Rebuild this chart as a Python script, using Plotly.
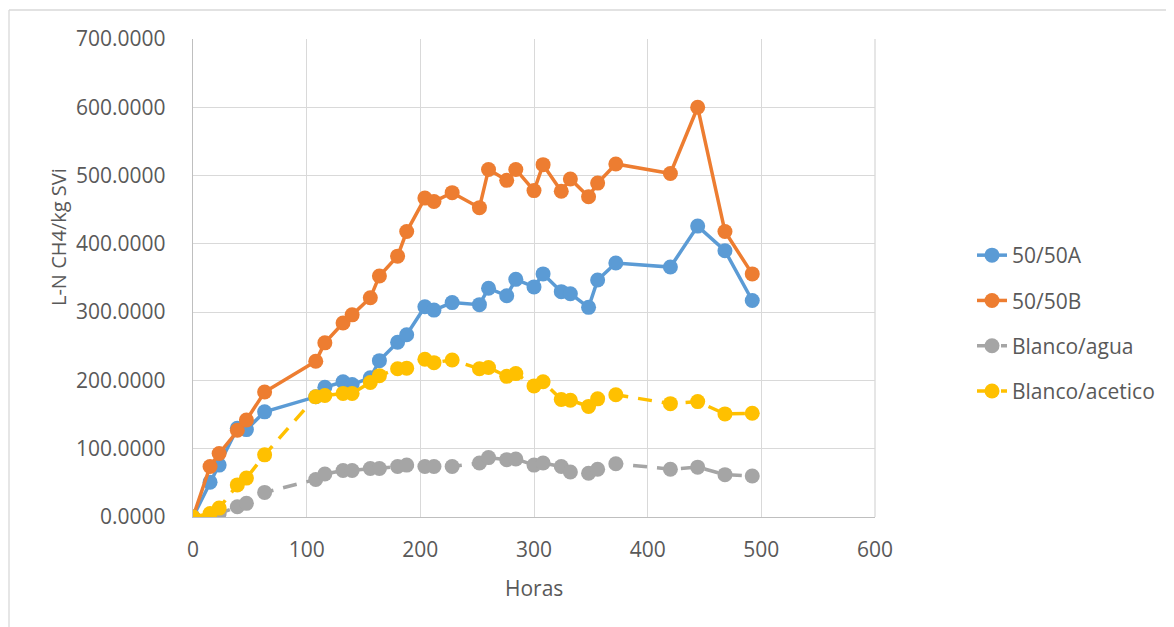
import plotly.graph_objects as go

horas = [0, 15, 23, 39, 47, 63, 108, 116, 132, 140, 156, 164, 180, 188, 204, 212, 228,
         252, 260, 276, 284, 300, 308, 324, 332, 348, 356, 372, 420, 444, 468, 492]

serie_5050A = [0, 51, 76, 130, 128, 154, 176, 190, 198, 194, 204, 229, 256, 267, 308, 303, 314,
               311, 335, 324, 348, 337, 356, 330, 327, 307, 347, 372, 366, 426, 390, 317]

serie_5050B = [0, 74, 93, 127, 142, 183, 228, 255, 284, 296, 321, 353, 382, 418, 467, 462, 475,
               453, 509, 493, 509, 478, 516, 477, 495, 469, 489, 517, 503, 600, 418, 356]

blanco_agua = [0, 1, 5, 15, 20, 36, 55, 63, 68, 68, 71, 71, 74, 76, 74, 74, 74,
               79, 87, 84, 85, 76, 79, 74, 66, 64, 70, 78, 70, 73, 62, 60]

blanco_acetico = [0, 5, 13, 47, 57, 91, 176, 178, 181, 181, 197, 207, 217, 218, 231, 226, 230,
                  217, 219, 206, 210, 192, 198, 172, 171, 162, 173, 179, 166, 169, 151, 152]

series_names = ["50/50A", "50/50B", "Blanco/agua", "Blanco/acetico"]
series_values = [serie_5050A, serie_5050B, blanco_agua, blanco_acetico]
colors = ["#5B9BD5", "#ED7D31", "#A5A5A5", "#FFC000"]
dashes = ["solid", "solid", "14px,10px", "14px,10px"]

FONT = "Open Sans"
TXT = "#595959"

fig = go.Figure()
for i, (name, vals) in enumerate(zip(series_names, series_values)):
    fig.add_trace(go.Scatter(
        x=horas, y=vals, name=name, mode="lines+markers",
        line=dict(color=colors[i], width=3.5, dash=dashes[i]),
        marker=dict(color=colors[i], size=15, symbol="circle"),
        legendgroup=f"g{i}",
    ))

# plot area in reference pixels: left 193, right 875, top 39, bottom 517
L, R, T, B = 193, 875, 39, 517
W, H = 1174, 627
OFF = 8  # page body margin
pw, ph = R - L, B - T

def px(xp):
    return (xp - L) / pw

def py(yp):
    return (B - yp) / ph

fig.update_layout(
    width=W, height=H,
    margin=dict(l=L - OFF, r=W - R + OFF, t=T - OFF, b=H - B + OFF, pad=0),
    paper_bgcolor="white", plot_bgcolor="white",
    font=dict(family=FONT, size=21, color=TXT),
    showlegend=True,
    legend=dict(
        x=px(972), y=py(235), xanchor="left", yanchor="top",
        font=dict(family=FONT, size=21, color=TXT),
        tracegroupgap=15, bgcolor="rgba(0,0,0,0)",
    ),
    xaxis=dict(
        range=[0, 600], tickvals=[0, 100, 200, 300, 400, 500, 600],
        showgrid=True, gridcolor="#D9D9D9", gridwidth=1.3,
        showline=True, linecolor="#BFBFBF", linewidth=1.3,
        zeroline=False, ticks="", ticklabelstandoff=14,
        tickfont=dict(family=FONT, size=21, color=TXT),
    ),
    yaxis=dict(
        range=[0, 700], tickvals=[0, 100, 200, 300, 400, 500, 600, 700],
        tickformat=".4f",
        showgrid=True, gridcolor="#D9D9D9", gridwidth=1.3,
        showline=True, linecolor="#BFBFBF", linewidth=1.3,
        zeroline=False, ticks="", ticklabelstandoff=22,
        tickfont=dict(family=FONT, size=21, color=TXT),
    ),
)

# right gridline edge
fig.add_shape(type="line", xref="paper", yref="paper", x0=1, x1=1, y0=0, y1=1,
              line=dict(color="#D9D9D9", width=1.3))

# axis titles
fig.add_annotation(text="Horas", xref="paper", yref="paper", x=px(534), y=py(588),
                   xanchor="center", yanchor="middle", showarrow=False,
                   font=dict(family=FONT, size=21, color=TXT))
fig.add_annotation(text="L-N CH4/kg SVi", xref="paper", yref="paper", x=px(58), y=py(237),
                   xanchor="center", yanchor="middle", showarrow=False, textangle=-90,
                   font=dict(family=FONT, size=20, color=TXT))

# outer chart border (left and top visible)
fig.add_shape(type="line", xref="paper", yref="paper", x0=px(9), x1=px(9), y0=py(10), y1=py(640),
              line=dict(color="#D9D9D9", width=1.3))
fig.add_shape(type="line", xref="paper", yref="paper", x0=px(9), x1=px(1190), y0=py(10), y1=py(10),
              line=dict(color="#D9D9D9", width=1.3))

fig.write_html("out.html")
